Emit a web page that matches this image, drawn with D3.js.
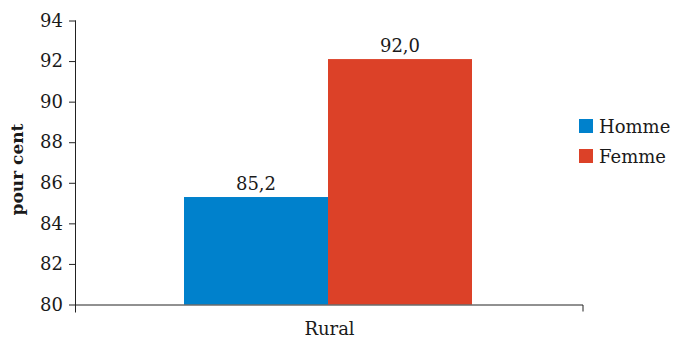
<!DOCTYPE html>
<html><head><meta charset="utf-8">
<script src="https://cdn.jsdelivr.net/npm/d3@7"></script>
<style>body{margin:0;background:#fff} svg text{font-family:"DejaVu Serif", serif;}</style>
</head><body>
<svg id="c" width="674" height="337"></svg>
<script>
const categories = ["Rural"];
const seriesNames = ["Homme", "Femme"];
const homme = [85.2];
const femme = [92.0];
const yTicks = [80, 82, 84, 86, 88, 90, 92, 94];
const colors = ["#0081cc", "#dc4128"];

const font = "DejaVu Serif";
const svg = d3.select("#c");
const m = {left: 76, right: 583, top: 20.5, bottom: 304.5};

const x0 = d3.scaleBand().domain(categories).range([m.left, m.right]).paddingInner(0).paddingOuter(0);
const x1 = d3.scaleBand().domain(seriesNames).range([108, x0.bandwidth() - 111]).padding(0);
const y = d3.scaleLinear().domain([80, 94]).range([m.bottom, m.top]);

const data = categories.map((c, i) => ({cat: c, vals: [homme[i], femme[i]]}));

// bars
const g = svg.append("g");
data.forEach(d => {
  d.vals.forEach((v, j) => {
    const xp = x0(d.cat) + x1(seriesNames[j]);
    g.append("rect").attr("x", xp).attr("y", y(v) - 2).attr("width", x1.bandwidth())
      .attr("height", y(80) - y(v) + 2).attr("fill", colors[j]);
    g.append("text").attr("x", xp + x1.bandwidth() / 2).attr("y", y(v) - 9)
      .attr("text-anchor", "middle").style("font-family", font).attr("font-size", 18)
      .attr("fill", "#1a1a1a").text(v.toFixed(1).replace(".", ","));
  });
});

// y axis
const yAxis = d3.axisLeft(y).tickValues(yTicks).tickSize(7).tickPadding(6).tickFormat(d => d);
const ya = svg.append("g").attr("transform", `translate(${m.left},0)`).call(yAxis);
ya.attr("font-family", null).attr("font-size", null);
ya.select(".domain").attr("d", `M-0.5,${m.top}V${m.bottom + 8}`).attr("stroke", "#222");
ya.selectAll(".tick line").attr("stroke", "#222");
ya.selectAll(".tick text").style("font-family", font).attr("font-size", 18).attr("fill", "#1a1a1a");

// x axis
const xAxis = d3.axisBottom(x0).tickSize(0);
const xa = svg.append("g").attr("transform", `translate(0,${m.bottom})`).call(xAxis);
xa.attr("font-family", null).attr("font-size", null);
xa.select(".domain").attr("d", `M${m.left},0.5H${m.right}V7`).attr("stroke", "#222");
xa.selectAll(".tick text").style("font-family", font).attr("font-size", 18).attr("fill", "#1a1a1a")
  .attr("y", 30).attr("dy", 0);

// y title
svg.append("text").attr("transform", `translate(23,${(m.top + m.bottom) / 2 + 7}) rotate(-90)`)
  .attr("text-anchor", "middle").style("font-family", font).attr("font-size", 17)
  .attr("font-weight", "bold").attr("fill", "#1a1a1a").text("pour cent");

// legend
seriesNames.forEach((s, j) => {
  const ly = 119 + j * 30;
  svg.append("rect").attr("x", 579).attr("y", ly).attr("width", 14).attr("height", 14).attr("fill", colors[j]);
  svg.append("text").attr("x", 599).attr("y", ly + 14).style("font-family", font).attr("font-size", 18)
    .attr("fill", "#1a1a1a").text(s);
});
</script>
</body></html>
